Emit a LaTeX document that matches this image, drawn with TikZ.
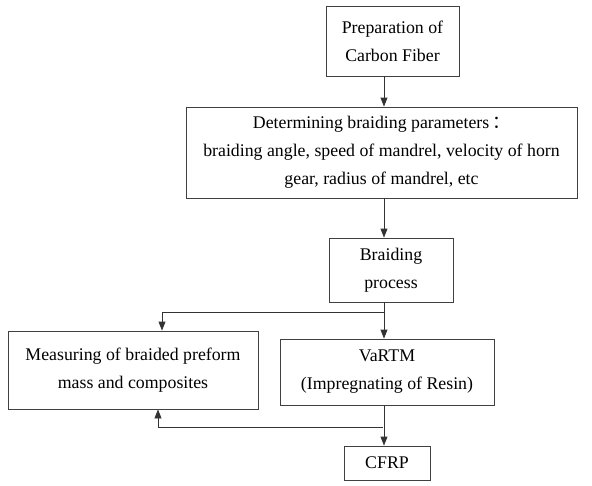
\documentclass[tikz,border=0pt]{standalone}
\usepackage{fontspec}
\setmainfont{Liberation Serif}
\newfontfamily\cjk{Noto Sans CJK SC}
\usetikzlibrary{arrows.meta}
\tikzset{
  box/.style={draw=black!75, line width=0.9pt, align=center, inner sep=0pt,
    font=\fontsize{17.8}{28}\selectfont},
  arr/.style={draw=black!80, line width=0.9pt, -{Triangle[length=9pt,width=7pt]}},
  ln/.style={draw=black!80, line width=0.9pt}
}
\begin{document}
\begin{tikzpicture}[x=1pt,y=-1pt]
\useasboundingbox (0,0) rectangle (592,485);
\node[box, minimum width=133pt, minimum height=70pt] (b1) at (392.5,41) {Preparation of\\Carbon Fiber};
\node[box, minimum width=391pt, minimum height=91pt] (b2) at (381.5,152.5) {Determining braiding parameters\,{\cjk ：}\\braiding angle, speed of mandrel, velocity of horn\\gear, radius of mandrel, etc};
\node[box, minimum width=124pt, minimum height=64pt] (b3) at (391,270) {Braiding\\process};
\node[box, minimum width=250pt, minimum height=78pt] (b4) at (133,370) {Measuring of braided preform\\mass and composites};
\node[box, minimum width=214pt, minimum height=66pt] (b5) at (387,372) {VaRTM\\(Impregnating of Resin)};
\node[box, minimum width=86pt, minimum height=34pt] (b6) at (387,463) {CFRP};
\coordinate (cx) at (384,0);
\coordinate (br) at (384,312);
\coordinate (lx) at (162,0);
\coordinate (rt) at (383,427);
\coordinate (rx) at (158,0);
\draw[arr] (b1.south -| cx) -- (b2.north -| cx);
\draw[arr] (b2.south -| cx) -- (b3.north -| cx);
\draw[ln] (b3.south -| cx) -- (br);
\draw[arr] (br) -| (b4.north -| lx);
\draw[arr] (br) -- (b5.north -| cx);
\draw[arr] (b5.south -| cx) -- (b6.north -| cx);
\draw[arr] (rt) -| (b4.south -| rx);
\end{tikzpicture}
\end{document}
